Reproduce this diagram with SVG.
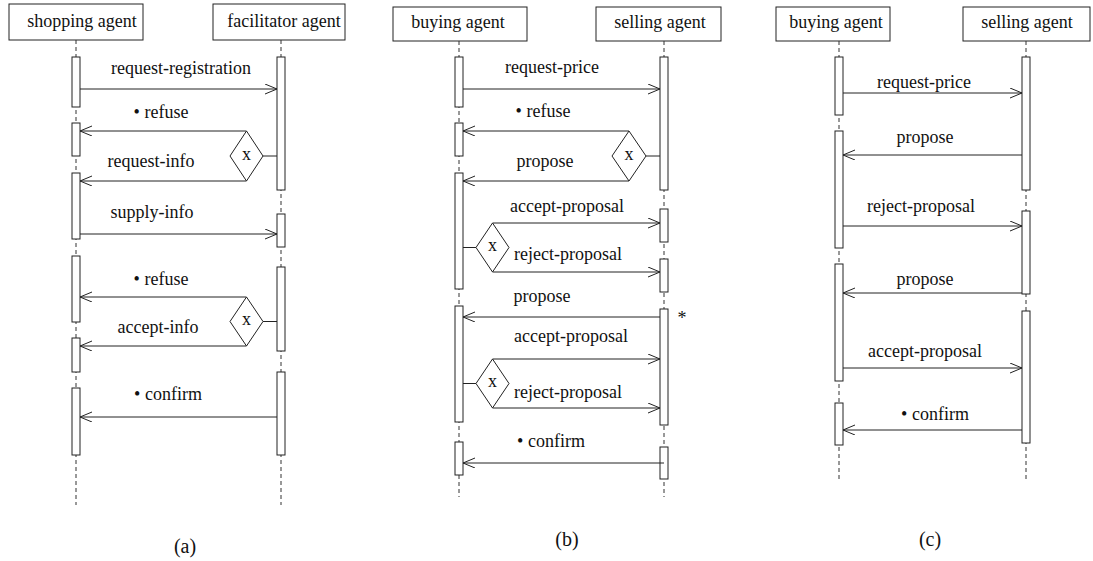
<svg xmlns="http://www.w3.org/2000/svg" width="1093" height="561" viewBox="0 0 1093 561">
<defs>
<marker id="ah" markerUnits="userSpaceOnUse" markerWidth="14" markerHeight="12" refX="12" refY="5" orient="auto">
<path d="M0,0 L12,5 L0,10" fill="none" stroke="#222" stroke-width="1"/>
</marker>
<style>
text{font-family:"Liberation Serif","Times New Roman",serif;font-size:18px;fill:#111;text-anchor:middle}
.box{fill:#fff;stroke:#222;stroke-width:1}
.life{stroke:#333;stroke-width:1;stroke-dasharray:4,3;fill:none}
.bar{fill:#fff;stroke:#222;stroke-width:1}
.msg{stroke:#222;stroke-width:1;fill:none;marker-end:url(#ah)}
.ln{stroke:#222;stroke-width:1;fill:none}
.dia{fill:#fff;stroke:#222;stroke-width:1}
.cap{font-size:20px}
</style>
</defs>
<rect width="1093" height="561" fill="#fff"/>

<!-- Panel (a) -->
<g id="a-shopping">
<rect class="box" x="9" y="4" width="134" height="36"/>
<text x="82" y="27">shopping agent</text>
<line class="life" x1="76" y1="40" x2="76" y2="505"/>
<rect class="bar" x="72" y="57" width="8" height="50"/>
<rect class="bar" x="72" y="123" width="8" height="33"/>
<rect class="bar" x="72" y="173" width="8" height="66"/>
<rect class="bar" x="72" y="256" width="8" height="66"/>
<rect class="bar" x="72" y="338" width="8" height="34"/>
<rect class="bar" x="72" y="388" width="8" height="67"/>
</g>
<g id="a-facilitator">
<rect class="box" x="213" y="4" width="132" height="36"/>
<text x="284" y="27">facilitator agent</text>
<line class="life" x1="281" y1="40" x2="281" y2="505"/>
<rect class="bar" x="277" y="57" width="8" height="133"/>
<rect class="bar" x="277" y="214" width="8" height="33"/>
<rect class="bar" x="277" y="267" width="8" height="84"/>
<rect class="bar" x="277" y="372" width="8" height="83"/>
</g>
<g id="a-choice1">
<polygon class="dia" points="246.5,131 263,156 246.5,181 230,156"/>
<text x="246.5" y="159.5">x</text>
</g>
<g id="a-choice2">
<polygon class="dia" points="246.5,297 263,321.5 246.5,346 230,321.5"/>
<text x="246.5" y="325">x</text>
</g>
<g id="a-connectors">
<line class="msg" x1="80" y1="89" x2="277" y2="89"/>
<text x="181" y="74">request-registration</text>
<line class="ln" x1="263" y1="156" x2="277" y2="156"/>
<line class="msg" x1="246.5" y1="131" x2="80" y2="131"/>
<text x="161" y="118">• refuse</text>
<line class="msg" x1="246.5" y1="181" x2="80" y2="181"/>
<text x="151" y="167">request-info</text>
<line class="msg" x1="80" y1="234" x2="277" y2="234"/>
<text x="152" y="218">supply-info</text>
<line class="ln" x1="263" y1="321.5" x2="277" y2="321.5"/>
<line class="msg" x1="246.5" y1="297" x2="80" y2="297"/>
<text x="161" y="285">• refuse</text>
<line class="msg" x1="246.5" y1="346" x2="80" y2="346"/>
<text x="158" y="333">accept-info</text>
<line class="msg" x1="277" y1="417" x2="80" y2="417"/>
<text x="168" y="400">• confirm</text>
</g>
<text class="cap" x="185" y="553">(a)</text>

<!-- Panel (b) -->
<g id="b-buying">
<rect class="box" x="393" y="7" width="134" height="34"/>
<text x="458" y="28">buying agent</text>
<line class="life" x1="459" y1="41" x2="459" y2="497"/>
<rect class="bar" x="455" y="57" width="8" height="50"/>
<rect class="bar" x="455" y="123" width="8" height="33"/>
<rect class="bar" x="455" y="173" width="8" height="116"/>
<rect class="bar" x="455" y="306" width="8" height="116"/>
<rect class="bar" x="455" y="442" width="8" height="33"/>
</g>
<g id="b-selling">
<rect class="box" x="596" y="7" width="125" height="34"/>
<text x="660" y="28">selling agent</text>
<line class="life" x1="664" y1="41" x2="664" y2="497"/>
<rect class="bar" x="660" y="57" width="8" height="133"/>
<rect class="bar" x="660" y="209" width="8" height="33"/>
<rect class="bar" x="660" y="259" width="8" height="33"/>
<rect class="bar" x="660" y="309" width="8" height="116"/>
<rect class="bar" x="660" y="447" width="8" height="32"/>
</g>
<g id="b-choice1">
<polygon class="dia" points="629,131 646,156 629,181 612,156"/>
<text x="629" y="159.5">x</text>
</g>
<g id="b-choice2">
<polygon class="dia" points="492.5,223 509,247.5 492.5,272 476,247.5"/>
<text x="492.5" y="251">x</text>
</g>
<g id="b-choice3">
<polygon class="dia" points="492.5,359 509,383.5 492.5,408 476,383.5"/>
<text x="492.5" y="387">x</text>
</g>
<g id="b-connectors">
<line class="msg" x1="463" y1="89" x2="660" y2="89"/>
<text x="552" y="73">request-price</text>
<line class="ln" x1="646" y1="156" x2="660" y2="156"/>
<line class="msg" x1="629" y1="131" x2="463" y2="131"/>
<text x="543" y="117">• refuse</text>
<line class="msg" x1="629" y1="181" x2="463" y2="181"/>
<text x="545" y="167">propose</text>
<line class="ln" x1="463" y1="247.5" x2="476" y2="247.5"/>
<line class="msg" x1="492.5" y1="223" x2="660" y2="223"/>
<text x="567" y="212">accept-proposal</text>
<line class="msg" x1="492.5" y1="272" x2="660" y2="272"/>
<text x="568" y="260">reject-proposal</text>
<line class="msg" x1="660" y1="317" x2="463" y2="317"/>
<text x="542" y="302">propose</text>
<text x="682" y="324">*</text>
<line class="ln" x1="463" y1="383.5" x2="476" y2="383.5"/>
<line class="msg" x1="492.5" y1="359" x2="660" y2="359"/>
<text x="571" y="342">accept-proposal</text>
<line class="msg" x1="492.5" y1="408" x2="660" y2="408"/>
<text x="568" y="398">reject-proposal</text>
<line class="msg" x1="664" y1="463" x2="463" y2="463"/>
<text x="551" y="447">• confirm</text>
</g>
<text class="cap" x="567" y="546">(b)</text>

<!-- Panel (c) -->
<g id="c-buying">
<rect class="box" x="776" y="7" width="114" height="34"/>
<text x="836" y="28">buying agent</text>
<line class="life" x1="839" y1="41" x2="839" y2="479"/>
<rect class="bar" x="835" y="57" width="8" height="58"/>
<rect class="bar" x="835" y="131" width="8" height="117"/>
<rect class="bar" x="835" y="264" width="8" height="117"/>
<rect class="bar" x="835" y="403" width="8" height="42"/>
</g>
<g id="c-selling">
<rect class="box" x="963" y="7" width="127" height="34"/>
<text x="1027" y="28">selling agent</text>
<line class="life" x1="1026" y1="41" x2="1026" y2="479"/>
<rect class="bar" x="1022" y="57" width="8" height="133"/>
<rect class="bar" x="1022" y="211" width="8" height="83"/>
<rect class="bar" x="1022" y="311" width="8" height="132"/>
</g>
<g id="c-connectors">
<line class="msg" x1="843" y1="93" x2="1022" y2="93"/>
<text x="924" y="88">request-price</text>
<line class="msg" x1="1022" y1="155" x2="843" y2="155"/>
<text x="925" y="143">propose</text>
<line class="msg" x1="843" y1="226" x2="1022" y2="226"/>
<text x="921" y="212">reject-proposal</text>
<line class="msg" x1="1022" y1="293" x2="843" y2="293"/>
<text x="925" y="285">propose</text>
<line class="msg" x1="843" y1="368" x2="1022" y2="368"/>
<text x="925" y="357">accept-proposal</text>
<line class="msg" x1="1022" y1="430" x2="843" y2="430"/>
<text x="935" y="420">• confirm</text>
</g>
<text class="cap" x="930" y="546">(c)</text>
</svg>
